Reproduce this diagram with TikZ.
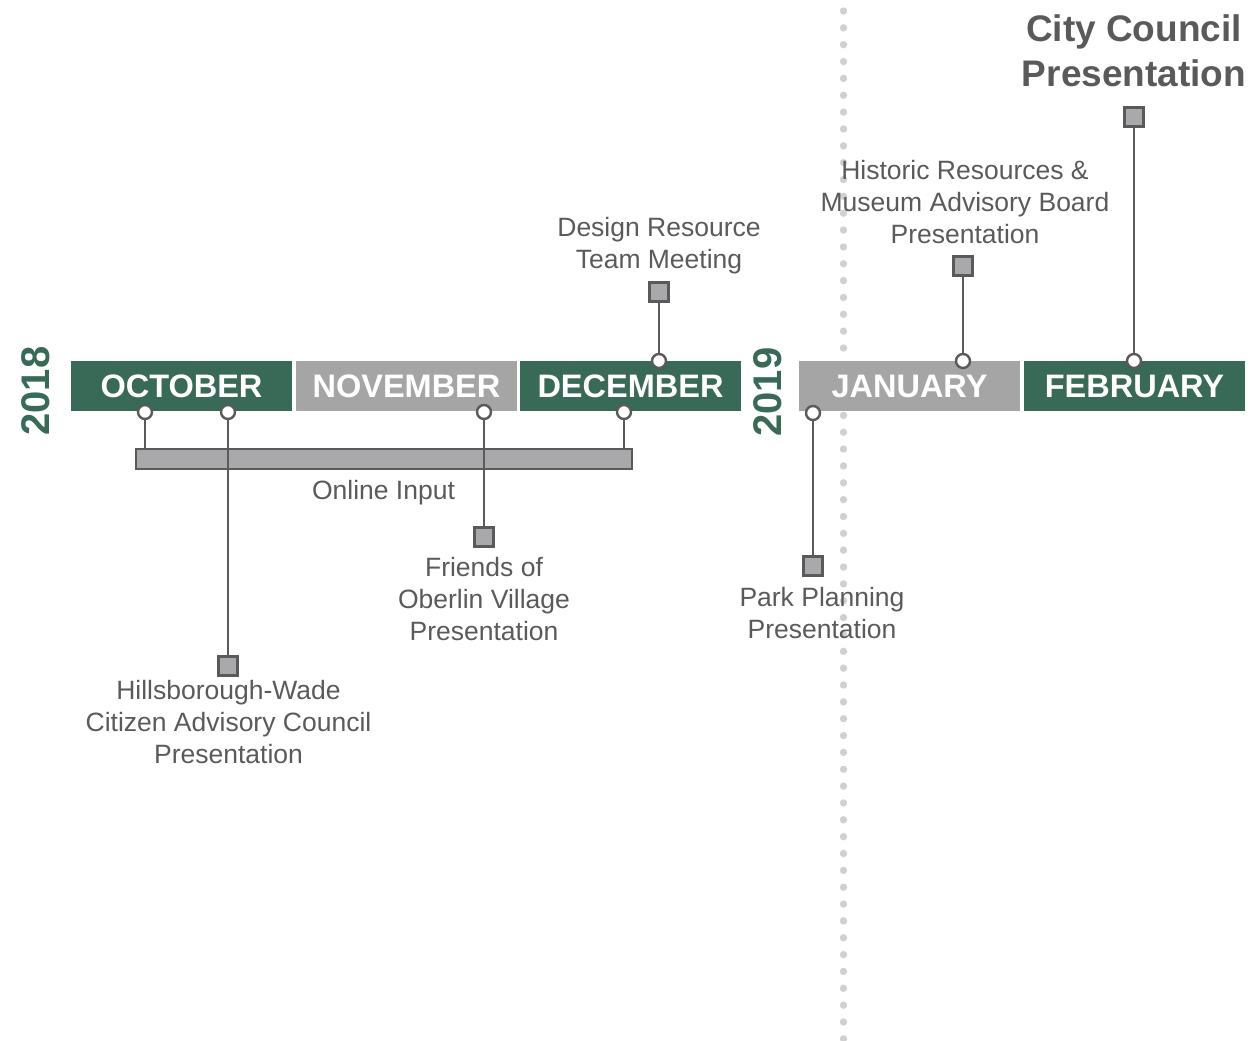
\documentclass[tikz,border=0pt]{standalone}
\usepackage{fontspec}
\setmainfont{Liberation Sans}
\definecolor{grn}{HTML}{386A57}
\definecolor{mgray}{HTML}{A5A5A5}
\definecolor{dgray}{HTML}{5A5A5A}
\definecolor{sqgray}{HTML}{A9A9AB}
\definecolor{dotgray}{HTML}{D0D0D2}
\begin{document}
\begin{tikzpicture}[x=1pt,y=-1pt,
  month/.style={rectangle, minimum width=221pt, minimum height=50pt, inner sep=0pt, text=white, font=\fontsize{32.5}{32}\selectfont\bfseries},
  pin/.style={circle, draw=dgray, fill=white, line width=2.4pt, minimum size=14pt, inner sep=0pt},
  sq/.style={rectangle, draw=dgray, fill=sqgray, line width=2.4pt, minimum size=19pt, inner sep=0pt},
  lbl/.style={anchor=base, align=center, text=dgray, inner sep=0pt, font=\fontsize{26.5}{32}\selectfont},
  conn/.style={draw=dgray, line width=2.4pt},
  year/.style={rotate=90, text=grn, font=\fontsize{40}{40}\selectfont\bfseries, inner sep=0pt}]
\useasboundingbox (0,0) rectangle (1251,1041);
% dotted divider
\foreach \i in {0,...,61} \fill[dotgray] (843.5,{11+\i*16.85}) circle (3.7);
% months
\node[month, fill=grn]   (oct) at (181.5,386) {OCTOBER};
\node[month, fill=mgray] (nov) at (406.5,386) {NOVEMBER};
\node[month, fill=grn]   (dec) at (630.5,386) {DECEMBER};
\node[month, fill=mgray] (jan) at (909.5,386) {JANUARY};
\node[month, fill=grn]   (feb) at (1134.5,386) {FEBRUARY};
% years
\node[year] (y18) at (36,391) {2018};
\node[year] (y19) at (767.5,392) {2019};
% online input bar
\node[rectangle, draw=dgray, fill=sqgray, line width=2.4pt, minimum width=496pt, minimum height=20pt, inner sep=0pt] (bar) at (384,459) {};
% pins
\node[pin] (o1) at (145,412) {};
\node[pin] (o2) at (228,412) {};
\node[pin] (nv) at (484,412) {};
\node[pin] (d2) at (624,412) {};
\node[pin] (d1) at (659,361) {};
\node[pin] (j1) at (963,361) {};
\node[pin] (f1) at (1134,361) {};
\node[pin] (j2) at (813,413) {};
% squares
\node[sq] (dr) at (659,292) {};
\node[sq] (hr) at (963,266) {};
\node[sq] (cc) at (1134,117) {};
\node[sq] (pp) at (813,566) {};
\node[sq] (hw) at (228,666) {};
\node[sq] (fr) at (484,537) {};
% connectors
\draw[conn] (o1) -- (o1 |- bar.north);
\draw[conn] (d2) -- (d2 |- bar.north);
\draw[conn] (o2) -- (hw);
\draw[conn] (nv) -- (fr);
\draw[conn] (d1) -- (dr);
\draw[conn] (j1) -- (hr);
\draw[conn] (f1) -- (cc);
\draw[conn] (j2) -- (pp);
% labels (base anchor = baseline of last line)
\node[lbl] (tdr) at (659,268) {Design Resource\\Team Meeting};
\node[lbl] (thr) at (965,243) {Historic Resources \&\\Museum Advisory Board\\Presentation};
\node[lbl, font=\fontsize{37}{45}\selectfont\bfseries] (tcc) at (1134,86) {City Council\\Presentation};
\node[lbl] (toi) at (383.5,499) {Online Input};
\node[lbl] (tfr) at (484,640) {Friends of\\Oberlin Village\\Presentation};
\node[lbl] (thw) at (228.5,763) {Hillsborough-Wade\\Citizen Advisory Council\\Presentation};
\node[lbl] (tpp) at (822,638) {Park Planning\\Presentation};
\end{tikzpicture}
\end{document}
